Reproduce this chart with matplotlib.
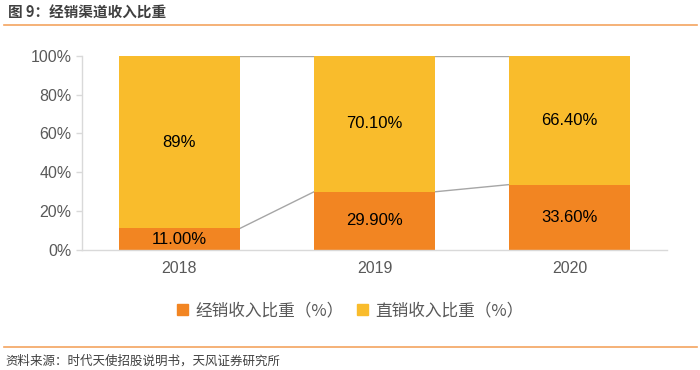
import matplotlib.pyplot as plt
from matplotlib.patches import Patch
from matplotlib.lines import Line2D

plt.rcParams['font.family'] = ['Liberation Sans', 'Noto Sans CJK SC', 'DejaVu Sans']

years = ["2018", "2019", "2020"]
dist_share = [11.0, 29.9, 33.6]      # 经销收入比重
direct_share = [89.0, 70.1, 66.4]    # 直销收入比重
dist_labels = ["11.00%", "29.90%", "33.60%"]
direct_labels = ["89%", "70.10%", "66.40%"]

c_dist = "#F28522"
c_direct = "#F9BC2C"
grey = "#595959"
width = 0.62

fig = plt.figure(figsize=(7, 3.7), dpi=100)
ax = fig.add_axes([0.117, 0.325, 0.836, 0.524])

x = range(len(years))
ax.bar(x, dist_share, width, color=c_dist, zorder=2)
ax.bar(x, direct_share, width, bottom=dist_share, color=c_direct, zorder=2)

# series connector lines between bars
tops = [d + s for d, s in zip(dist_share, direct_share)]
for i in range(len(years) - 1):
    for series in (dist_share, tops):
        ax.plot([i + width / 2, i + 1 - width / 2], [series[i], series[i + 1]],
                color="#A6A6A6", lw=1, zorder=1)

for i in x:
    ax.text(i, dist_share[i] / 2, dist_labels[i], ha="center", va="center",
            fontsize=12, color="black")
    ax.text(i, dist_share[i] + direct_share[i] / 2, direct_labels[i],
            ha="center", va="center", fontsize=12, color="black")

ax.set_xlim(-0.5, 2.5)
ax.set_ylim(0, 100)
ax.set_xticks(list(x))
ax.set_xticklabels(years)
ax.set_yticks(range(0, 101, 20))
ax.set_yticklabels([f"{v}%" for v in range(0, 101, 20)])
ax.tick_params(axis="y", colors="#D9D9D9", labelcolor=grey, labelsize=11.5,
               length=4, width=1)
ax.tick_params(axis="x", length=0, labelcolor=grey, labelsize=11.5, pad=8)
for s in ("top", "right"):
    ax.spines[s].set_visible(False)
for s in ("left", "bottom"):
    ax.spines[s].set_color("#D9D9D9")
    ax.spines[s].set_linewidth(1)

handles = [Patch(color=c_dist), Patch(color=c_direct)]
fig.legend(handles, ["经销收入比重（%）", "直销收入比重（%）"],
           loc="center", bbox_to_anchor=(0.5, 0.16), ncol=2, frameon=False,
           fontsize=12, handlelength=0.7, handleheight=0.7, handletextpad=0.4,
           columnspacing=0.8, labelcolor=grey,
           prop={"family": ["Noto Sans CJK SC", "DejaVu Sans"], "size": 12})

fig.text(0.012, 0.965, "图 9：经销渠道收入比重", fontsize=10.5, fontweight="bold",
         color="#404040", va="center",
         family=["Noto Sans CJK SC", "DejaVu Sans"])
fig.add_artist(Line2D([0.005, 0.995], [0.932, 0.932], color="#F4A460", lw=1.2))
fig.add_artist(Line2D([0.005, 0.995], [0.062, 0.062], color="#F4A460", lw=1.2))
fig.text(0.008, 0.025, "资料来源：时代天使招股说明书，天风证券研究所", fontsize=9,
         color="#404040", va="center",
         family=["Noto Sans CJK SC", "DejaVu Sans"])

fig.savefig("out.png", dpi=100)
